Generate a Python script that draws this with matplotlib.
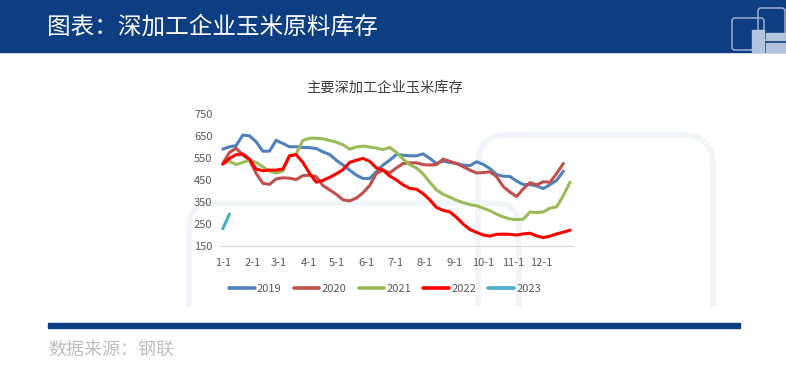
import matplotlib
matplotlib.use('Agg')
import matplotlib.pyplot as plt
from matplotlib.patches import FancyBboxPatch, Rectangle
import numpy as np

plt.rcParams['font.family'] = ['Noto Sans CJK SC', 'DejaVu Sans']

# weekly inventory readings (10k tons), one value per week starting 1-1
inv_2019 = [590, 601, 606, 654, 651, 624, 581, 581, 630, 616, 601, 601, 598, 597, 593,
            578, 566, 540, 518, 495, 472, 457, 457, 487, 518, 540, 566, 563, 560, 560,
            569, 548, 525, 536, 530, 525, 518, 515, 533, 521, 502, 475, 467, 466, 445,
            429, 429, 423, 411, 429, 449, 490]
inv_2020 = [525, 575, 594, 565, 540, 480, 435, 430, 455, 460, 458, 452, 470, 472, 465,
            425, 405, 385, 360, 355, 368, 392, 425, 480, 495, 482, 505, 525, 528, 528,
            520, 518, 520, 545, 535, 525, 510, 495, 482, 484, 487, 465, 420, 395, 375,
            410, 438, 428, 442, 440, 480, 525]
inv_2021 = [525, 535, 520, 530, 540, 530, 510, 490, 482, 490, 560, 568, 630, 640, 640,
            637, 630, 622, 610, 590, 600, 604, 600, 595, 588, 598, 575, 545, 520, 505,
            478, 440, 405, 385, 372, 358, 347, 338, 333, 322, 310, 295, 282, 273, 270,
            272, 305, 302, 305, 322, 328, 380, 440]
inv_2022 = [522, 548, 565, 568, 545, 500, 492, 495, 495, 500, 560, 565, 530, 480, 440,
            448, 462, 478, 497, 530, 540, 548, 535, 505, 495, 468, 450, 428, 412, 408,
            388, 360, 325, 312, 305, 280, 250, 225, 212, 200, 195, 203, 204, 203, 200,
            205, 208, 196, 188, 195, 205, 213, 222]
inv_2023 = [228, 295]

series = [('2019', inv_2019, '#4F81BD'),
          ('2020', inv_2020, '#C0504D'),
          ('2021', inv_2021, '#9BBB59'),
          ('2022', inv_2022, '#FF0000'),
          ('2023', inv_2023, '#4BACC6')]

month_labels = ['1-1', '2-1', '3-1', '4-1', '5-1', '6-1', '7-1', '8-1', '9-1', '10-1', '11-1', '12-1']
month_start_day = [0, 31, 59, 90, 120, 151, 181, 212, 243, 273, 304, 334]
y_ticks = [150, 250, 350, 450, 550, 650, 750]

W, H = 786, 372
fig = plt.figure(figsize=(W / 100, H / 100), dpi=100)

# page decoration in pixel coordinates
bg = fig.add_axes([0, 0, 1, 1])
bg.set_xlim(0, W)
bg.set_ylim(H, 0)
bg.axis('off')
navy = '#0D3E82'
bg.add_patch(Rectangle((0, 0), W, 52, color=navy, zorder=1))
bg.text(47, 27, '图表：深加工企业玉米原料库存', color='white', fontsize=17,
        va='center', ha='left', zorder=3)
# logo
bg.add_patch(FancyBboxPatch((732, 18), 32, 32, boxstyle='round,pad=0,rounding_size=3',
                            fill=False, ec='#A9B9D6', lw=1, zorder=2))
bg.add_patch(FancyBboxPatch((758, 8), 27, 32, boxstyle='round,pad=0,rounding_size=3',
                            fill=False, ec='#A9B9D6', lw=1, zorder=2))
bg.add_patch(Rectangle((752, 30), 12, 22, color='#B5C4DE', zorder=2))
bg.add_patch(Rectangle((766, 33), 20, 7, color='#B5C4DE', zorder=2))
bg.add_patch(Rectangle((766, 43), 20, 9, color='#B5C4DE', zorder=2))

# faint watermark shapes, cut off below the plot card
wm = '#F1F5FA'
bg.add_patch(FancyBboxPatch((189, 203), 330, 160, boxstyle='round,pad=0,rounding_size=25',
                            fill=False, ec=wm, lw=4, zorder=0))
bg.add_patch(FancyBboxPatch((478, 135), 235, 230, boxstyle='round,pad=0,rounding_size=30',
                            fill=False, ec=wm, lw=4, zorder=0))
bg.add_patch(Rectangle((0, 307), W, H - 307, color='white', zorder=0.5))

bg.text(385, 88, '主要深加工企业玉米库存', color='#404040', fontsize=10.3,
        ha='center', va='center')
bg.add_patch(Rectangle((48, 323), 692, 5, color=navy, zorder=2))
bg.text(48, 350, '数据来源：钢联', color='#BFBFBF', fontsize=13, ha='left', va='center',
        zorder=3)

# chart
ax = fig.add_axes([219.4 / W, 1 - 246 / H, 354 / W, 132 / H])
ax.patch.set_alpha(0)
for name, vals, col in series:
    ax.plot(np.arange(len(vals)), vals, color=col, lw=2.2, label=name,
            solid_capstyle='round', solid_joinstyle='round')

ax.set_xlim(-0.5, 52.5)
ax.set_ylim(150, 750)
ax.set_yticks(y_ticks)
ax.set_xticks([d / 7 for d in month_start_day])
ax.set_xticklabels(month_labels)
ax.tick_params(axis='both', length=0, labelsize=8, colors='#595959')
ax.tick_params(axis='x', pad=9)
ax.tick_params(axis='y', pad=5)
for s in ['top', 'right', 'left']:
    ax.spines[s].set_visible(False)
ax.spines['bottom'].set_color('#D9D9D9')
ax.spines['bottom'].set_linewidth(0.8)

leg = ax.legend(ncol=5, loc='center', bbox_to_anchor=(385 / W, 1 - 289 / H),
                bbox_transform=fig.transFigure, frameon=False, fontsize=8,
                handlelength=2.3, handletextpad=0.2, columnspacing=1.1,
                labelcolor='#595959')
for ln in leg.get_lines():
    ln.set_linewidth(2.6)

fig.savefig('out.png', dpi=100)
plt.close(fig)
